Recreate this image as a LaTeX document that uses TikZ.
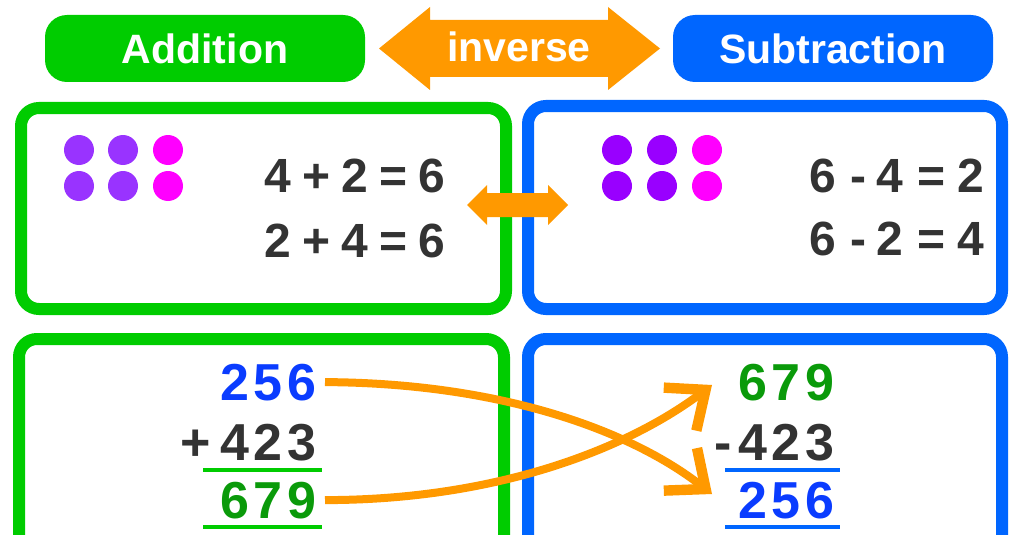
\documentclass[tikz,border=0pt]{standalone}
\usepackage{fontspec}
\setmainfont{Liberation Sans}
\usetikzlibrary{arrows.meta}
\definecolor{cgreen}{HTML}{00CC00}
\definecolor{cblue}{HTML}{0066FF}
\definecolor{corange}{HTML}{FF9900}
\definecolor{cpurple}{HTML}{9933FF}
\definecolor{cpurpleb}{HTML}{9900FF}
\definecolor{cmagenta}{HTML}{FF00FF}
\definecolor{ctext}{HTML}{333333}
\definecolor{nblue}{HTML}{0A3CFF}
\definecolor{ngreen}{HTML}{0A9A0A}
\begin{document}
\begin{tikzpicture}[x=1pt,y=-1pt,
  pill/.style={rounded corners=22pt, minimum width=320pt, minimum height=67pt, inner sep=0pt,
    text=white, font=\fontsize{41pt}{48pt}\selectfont\bfseries},
  boxg/.style={draw=cgreen, line width=12pt, rounded corners=18pt},
  boxb/.style={draw=cblue, line width=12pt, rounded corners=18pt},
  eq/.style={inner sep=0pt, text=ctext, font=\fontsize{48pt}{56pt}\selectfont\bfseries},
  num/.style={inner sep=0pt, font=\fontsize{52pt}{60pt}\selectfont\bfseries},
  ulg/.style={draw=cgreen, line width=4pt},
  ulb/.style={draw=cblue, line width=4pt},
  conn/.style={draw=corange, line width=8pt, -{Straight Barb[length=32pt,width=54pt,line width=0pt 1.3]}}]
\useasboundingbox (0,0) rectangle (1010,535);
\clip (0,0) rectangle (1010,535);
% top pills
\node[pill, fill=cgreen] (add) at (205,48.5) {Addition};
\node[pill, fill=cblue] (sub) at (833,48.5) {Subtraction};
\fill[corange] (379,48.5) -- (430,7) -- (430,20) -- (608,20) -- (608,7) -- (660,48.5)
  -- (608,90) -- (608,77) -- (430,77) -- (430,90) -- cycle;
\node[text=white, font=\fontsize{41pt}{48pt}\selectfont\bfseries, inner sep=0pt] (inv) at (519,47) {inverse};
% boxes
\draw[boxg] (21,108) rectangle (506,309);
\draw[boxb] (528,106) rectangle (1002,309);
\draw[boxg] (19,339) rectangle (504,590);
\draw[boxb] (528,339) rectangle (1002,590);
% dots
\foreach \x in {79,123} {\fill[cpurple] (\x,150) circle (15pt); \fill[cpurple] (\x,186) circle (15pt);}
\fill[cmagenta] (168,150) circle (15pt); \fill[cmagenta] (168,186) circle (15pt);
\foreach \x in {617,662} {\fill[cpurpleb] (\x,150) circle (15pt); \fill[cpurpleb] (\x,186) circle (15pt);}
\fill[cmagenta] (707,150) circle (15pt); \fill[cmagenta] (707,186) circle (15pt);
% equations
\node[eq, anchor=base east] (e1) at (445,192) {4\kern11pt+\kern11pt2\kern11pt=\kern11pt6};
\node[eq, anchor=base east] (e2) at (445,257) {2\kern11pt+\kern11pt4\kern11pt=\kern11pt6};
\node[eq, anchor=base east] (e3) at (984,192) {6\kern14pt-\kern10pt4\kern14pt=\kern12pt2};
\node[eq, anchor=base east] (e4) at (984,255) {6\kern14pt-\kern10pt2\kern14pt=\kern12pt4};
% small double arrow
\fill[corange] (467,205) -- (487,185) -- (487,193) -- (548,193) -- (548,185) -- (568,205)
  -- (548,225) -- (548,217) -- (487,217) -- (487,225) -- cycle;
% column sums
\node[num, text=nblue, anchor=base east] (l1) at (317,400) {2\kern5pt5\kern5pt6};
\node[num, text=ctext, anchor=base east] (l2) at (317,460) {+\kern9pt4\kern5pt2\kern5pt3};
\node[num, text=ngreen, anchor=base east] (l3) at (317,518) {6\kern5pt7\kern5pt9};
\draw[ulg] (203,470) -- (322,470);
\draw[ulg] (203,527) -- (322,527);
\node[num, text=ngreen, anchor=base east] (r1) at (835,400) {6\kern5pt7\kern5pt9};
\node[num, text=ctext, anchor=base east] (r2) at (835,460) {-\kern6pt4\kern5pt2\kern5pt3};
\node[num, text=nblue, anchor=base east] (r3) at (835,518) {2\kern5pt5\kern5pt6};
\draw[ulb] (725,470) -- (840,470);
\draw[ulb] (725,527) -- (840,527);
% crossing arrows
\coordinate (tipA) at (712,494);
\coordinate (tipB) at (712,385);
\draw[conn] ([xshift=8pt]l1.east) .. controls (500,383) and (630,430) .. (tipA);
\draw[conn] ([xshift=8pt]l3.east) .. controls (500,500) and (630,447) .. (tipB);
\end{tikzpicture}
\end{document}
